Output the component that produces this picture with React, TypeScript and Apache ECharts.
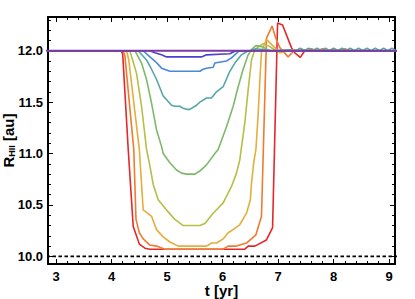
import React, { useEffect, useRef } from 'react';
import * as echarts from 'echarts';

const tRange = [2.855, 9.105];
const rRange = [9.926, 12.328];
const floorLevel = 10.0;

const red: number[][] = [
  [2.8, 12.0], [4.17, 12.0], [4.2, 11.97], [4.3, 11.04], [4.39, 10.29], [4.5, 10.12], [4.6, 10.08], [4.69, 10.07],
  [6.4, 10.07], [6.46, 10.1], [6.58, 10.1], [6.79, 10.16], [6.9, 10.28], [6.99, 12.27], [7.08, 12.25],
  [7.24, 12.03], [7.3, 11.98], [7.4, 11.935], [7.48, 12.0], [7.6, 12.01], [7.7, 12.0], [9.2, 12.0],
];
const orangeRed: number[][] = [
  [2.8, 12.0], [4.21, 12.0], [4.24, 11.95], [4.4, 11.04], [4.44, 10.36], [4.5, 10.23], [4.57, 10.17], [4.69, 10.11],
  [4.81, 10.1], [4.96, 10.07], [6.01, 10.07], [6.1, 10.1], [6.25, 10.1], [6.43, 10.13], [6.6, 10.21], [6.7, 10.39],
  [6.79, 12.12], [6.89, 12.24], [6.96, 12.12], [7.03, 12.03], [7.18, 11.94], [7.27, 11.99],
  [7.4, 12.02], [7.5, 12.0], [7.6, 12.02], [7.7, 12.0], [7.8, 12.02], [7.9, 12.0], [8.0, 12.02], [8.1, 12.0],
  [8.2, 12.02], [8.3, 12.0], [9.2, 12.0],
];
const gold: number[][] = [
  [2.8, 12.0], [4.27, 12.0], [4.31, 11.91], [4.5, 11.04], [4.57, 10.45], [4.6, 10.44], [4.72, 10.39], [4.81, 10.26],
  [4.93, 10.19], [5.05, 10.14], [5.2, 10.1], [5.71, 10.1], [5.8, 10.13], [5.89, 10.13], [6.01, 10.17], [6.1, 10.23],
  [6.19, 10.26], [6.31, 10.31], [6.43, 10.42], [6.5, 10.55], [6.52, 10.71], [6.56, 10.91], [6.6, 11.04],
  [6.64, 11.38], [6.67, 11.7], [6.7, 11.99], [6.79, 12.11], [6.94, 12.03], [7.03, 11.98], [7.12, 11.99],
  [7.2, 12.01], [9.2, 12.0],
];
const yellowGreen: number[][] = [
  [2.8, 12.0], [4.33, 12.0], [4.45, 11.78], [4.54, 11.46], [4.63, 11.04], [4.69, 10.88], [4.75, 10.7], [4.84, 10.55],
  [4.99, 10.45], [5.14, 10.36], [5.29, 10.3], [5.59, 10.3], [5.68, 10.32], [5.83, 10.42], [6.01, 10.52],
  [6.16, 10.68], [6.25, 10.81], [6.31, 10.94], [6.4, 11.3], [6.46, 11.62], [6.52, 11.91], [6.58, 12.01],
  [6.73, 12.07], [6.85, 12.04], [6.96, 12.0], [9.2, 12.0],
];
const green: number[][] = [
  [2.8, 12.0], [4.42, 12.0], [4.54, 11.88], [4.63, 11.72], [4.72, 11.49], [4.81, 11.23], [4.9, 11.07], [4.93, 11.0],
  [5.05, 10.91], [5.17, 10.84], [5.26, 10.81], [5.35, 10.8], [5.5, 10.8], [5.59, 10.83], [5.71, 10.89],
  [5.86, 11.0], [5.92, 11.04], [6.07, 11.26], [6.19, 11.46], [6.28, 11.65], [6.37, 11.82], [6.46, 11.96],
  [6.52, 12.01], [6.6, 12.05], [6.71, 12.04], [6.85, 12.0], [9.2, 12.0],
];
const teal: number[][] = [
  [2.8, 12.0], [4.48, 12.0], [4.63, 11.91], [4.72, 11.82], [4.81, 11.72], [4.93, 11.56], [5.08, 11.47], [5.14, 11.46],
  [5.23, 11.46], [5.29, 11.44], [5.35, 11.43], [5.41, 11.43], [5.53, 11.47], [5.59, 11.5], [5.71, 11.54],
  [5.8, 11.54], [5.89, 11.6], [6.01, 11.65], [6.13, 11.8], [6.22, 11.88], [6.34, 11.96], [6.43, 11.99],
  [6.6, 12.02], [6.75, 12.01], [6.9, 12.0], [7.2, 12.01], [7.325, 12.0], [7.4, 12.025], [7.475, 12.0],
  [7.55, 12.025], [7.625, 12.0], [7.7, 12.025], [7.775, 12.0], [7.85, 12.025], [7.925, 12.0], [8.0, 12.025],
  [8.075, 12.0], [8.15, 12.025], [8.225, 12.0], [8.3, 12.025], [8.375, 12.0], [8.45, 12.025], [8.525, 12.0],
  [8.6, 12.025], [8.675, 12.0], [8.75, 12.025], [8.825, 12.0], [8.9, 12.025], [8.975, 12.0], [9.05, 12.025],
  [9.125, 12.0], [9.2, 12.0],
];
const lightBlue: number[][] = [
  [2.8, 12.0], [4.57, 12.0], [4.69, 11.94], [4.78, 11.9], [4.87, 11.85], [4.9, 11.83], [5.05, 11.8], [5.59, 11.8],
  [5.65, 11.82], [5.71, 11.83], [5.83, 11.84], [5.86, 11.88], [6.07, 11.9], [6.16, 11.93], [6.28, 11.99],
  [6.31, 12.0], [9.2, 12.0],
];
const indigo: number[][] = [
  [2.8, 12.0], [4.69, 12.0], [4.78, 11.98], [4.9, 11.96], [4.99, 11.94], [5.62, 11.94], [5.71, 11.96],
  [6.13, 11.97], [6.22, 11.995], [6.27, 12.0], [9.2, 12.0],
];
const purple: number[][] = [[2.8, 12.0], [9.2, 12.0]];

const curves = [red, orangeRed, gold, yellowGreen, green, teal, lightBlue, indigo, purple];
const curveColors = ['#e3272b', '#ef7b30', '#e3ae3c', '#b6bf45', '#7db968', '#55a6a7', '#4a88d9', '#4b40cf', '#7d3aa2'];

const FONT = '"Liberation Sans", Arial, sans-serif';

export default function App() {
  const ref = useRef<HTMLDivElement>(null);
  useEffect(() => {
    if (!ref.current) return;
    const chart = echarts.init(ref.current, undefined, { renderer: 'svg' });
    const xFmt = (v: number) => (Math.abs(v - Math.round(v)) < 1e-6 ? String(Math.round(v)) : '');
    const yFmt = (v: number) => (Math.abs(v * 2 - Math.round(v * 2)) < 1e-6 ? v.toFixed(1) : '');
    const axisCommon = {
      axisLine: { show: true, onZero: false, lineStyle: { color: '#000', width: 2 } },
      axisTick: { show: true, inside: true, length: 5, lineStyle: { color: '#000', width: 1 } },
      minorTick: { show: true, splitNumber: 5, length: 3, lineStyle: { color: '#000', width: 1 } },
      splitLine: { show: false },
      minorSplitLine: { show: false },
    };
    const lineSeries: any[] = curves.map((d, i) => ({
      type: 'line',
      data: d,
      xAxisIndex: 0,
      yAxisIndex: 0,
      symbol: 'none',
      smooth: false,
      lineStyle: { color: curveColors[i], width: i === curves.length - 1 ? 2.2 : 1.6 },
      itemStyle: { color: curveColors[i] },
    }));
    const option: any = {
      animation: false,
      backgroundColor: '#fff',
      grid: { left: 48, top: 17, right: 20, bottom: 35, containLabel: false, outerBoundsMode: 'none' },
      xAxis: [
        {
          type: 'value', position: 'bottom', min: tRange[0], max: tRange[1], ...axisCommon,
          axisLabel: { show: true, formatter: xFmt, margin: 6, lineHeight: 12, color: '#000', fontSize: 13, fontWeight: 'bold', fontFamily: FONT, showMinLabel: false, showMaxLabel: false },
          name: 't [yr]', nameLocation: 'middle', nameGap: 20, nameMoveOverlap: false,
          nameTextStyle: { color: '#000', fontSize: 15, fontWeight: 'bold', fontFamily: FONT, lineHeight: 13 },
        },
        {
          type: 'value', position: 'top', min: tRange[0], max: tRange[1], ...axisCommon,
          axisLabel: { show: false },
        },
      ],
      yAxis: [
        {
          type: 'value', position: 'left', min: rRange[0], max: rRange[1], ...axisCommon,
          axisLabel: { show: true, formatter: yFmt, margin: 5, color: '#000', fontSize: 13, fontWeight: 'bold', fontFamily: FONT, showMinLabel: false, showMaxLabel: false },
          name: '{a|R}{b|HII}{a| [au]}', nameLocation: 'middle', nameGap: 32, nameRotate: 90, nameMoveOverlap: false,
          nameTextStyle: {
            color: '#000', fontFamily: FONT,
            rich: {
              a: { fontSize: 15, fontWeight: 'bold', fontFamily: FONT, color: '#000', lineHeight: 15 },
              b: { fontSize: 9, fontWeight: 'bold', fontFamily: FONT, color: '#000', lineHeight: 15, verticalAlign: 'bottom' },
            },
          },
        },
        {
          type: 'value', position: 'right', min: rRange[0], max: rRange[1], ...axisCommon,
          axisLabel: { show: false },
        },
      ],
      series: [
        {
          type: 'line',
          data: [[tRange[0] - 1, floorLevel], [tRange[1] + 1, floorLevel]],
          symbol: 'none',
          lineStyle: { color: '#000', width: 1.6, type: [3.5, 2.5] },
        },
        ...lineSeries,
      ],
    };
    chart.setOption(option);
    return () => chart.dispose();
  }, []);
  return <div ref={ref} style={{ position: 'fixed', left: 0, top: 0, width: 415, height: 299, background: '#fff' }} />;
}
